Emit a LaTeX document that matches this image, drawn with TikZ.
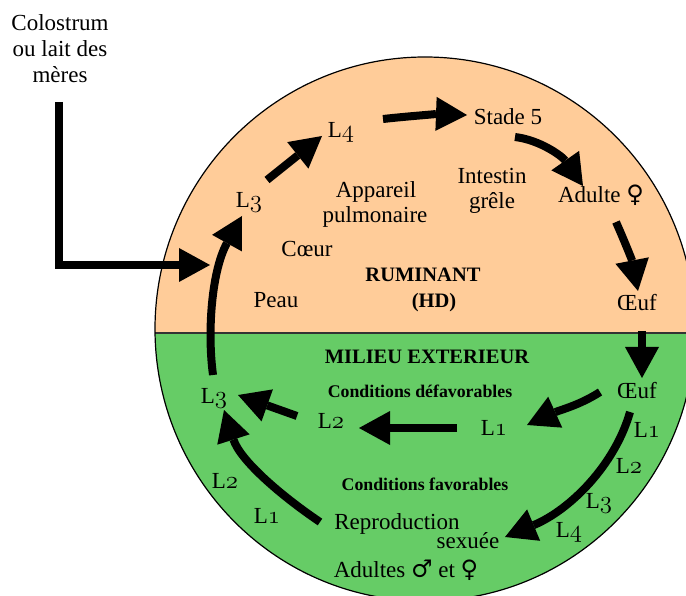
\documentclass[tikz,border=0pt]{standalone}
\usepackage{fontspec}
\setmainfont{Liberation Serif}
\newfontfamily\symfont{DejaVu Serif}
\usetikzlibrary{arrows.meta}
\definecolor{peach}{RGB}{255,204,153}
\definecolor{leaf}{RGB}{102,204,102}
% old-style figures for the larval stage numbers
\newcommand\osd[1]{{\usefont{OML}{cmm}{m}{it}#1}}
\newcommand\stage[1]{L\osd{#1}}
% sex symbols, set a little larger than the text
\newcommand\sexsym[1]{{\symfont\fontsize{24}{26}\selectfont #1}}
\begin{document}
\begin{tikzpicture}[x=1pt,y=-1pt,
  txt/.style={font=\fontsize{23}{26}\selectfont, inner sep=0pt, anchor=base},
  ttl/.style={font=\bfseries\fontsize{20.5}{24}\selectfont, inner sep=0pt, anchor=base},
  cnd/.style={font=\bfseries\fontsize{17.8}{20}\selectfont, inner sep=0pt, anchor=base},
  arr/.style={line width=8pt, -{Triangle[width=34pt,length=31pt,line width=0pt]}},
  disc/.style={x radius=270pt, y radius=272pt}]
\fill[white] (0,0) rectangle (686,596);
\useasboundingbox (0,0) rectangle (686,596);

% the disc: host above, outside world below
\coordinate (c) at (425,329);
\fill[peach] (c) ellipse[disc];
\begin{scope}
  \clip (0,333) rectangle (720,720);
  \fill[leaf] (c) ellipse[disc];
\end{scope}
\begin{scope}
  \clip (c) ellipse[disc];
  \draw[line width=1.8pt, black!80] (100,333) -- (720,333);
\end{scope}
\draw[line width=1.2pt] (c) ellipse[disc];

% source of infection
\node[txt] (col1) at (60,31) {Colostrum};
\node[txt] (col2) at (60,57) {ou lait des};
\node[txt] (col3) at (60,83) {mères};

% inside the ruminant
\node[txt] (l3u) at (249,208) {\stage3};
\node[txt] (l4) at (341,138) {\stage4};
\node[txt] (st5) at (508,125) {Stade 5};
\node[txt] (adf) at (601,203) {Adulte \sexsym{♀}};
\node[txt] (oeu1) at (637,311) {Œuf};
\node[txt] (intes) at (492,184) {Intestin};
\node[txt] (grele) at (492,209) {grêle};
\node[txt] (app) at (376,198) {Appareil};
\node[txt] (pulm) at (375,223) {pulmonaire};
\node[txt] (coeur) at (307,257) {Cœur};
\node[txt] (peau) at (276,308) {Peau};
\node[ttl] (rum) at (423,282) {RUMINANT};
\node[ttl] (hd) at (434,308) {(HD)};

% outside world
\node[ttl] (mil) at (427,363) {MILIEU EXTERIEUR};
\node[cnd] (cdef) at (420,397) {Conditions défavorables};
\node[txt] (oeu2) at (637,399) {Œuf};
\node[txt] (l1d) at (494,435) {\stage1};
\node[txt] (l2d) at (331,428) {\stage2};
\node[txt] (l3d) at (214,403) {\stage3};
\node[txt] (l2g) at (225,488) {\stage2};
\node[txt] (l1g) at (267,523) {\stage1};
\node[cnd] (cfav) at (425,490) {Conditions favorables};
\node[txt] (repro) at (397,529) {Reproduction};
\node[txt] (sex) at (468,548) {sexuée};
\node[txt] (adm) at (406,577) {Adultes \sexsym{♂} et \sexsym{♀}};
\node[txt] (r1) at (647,437) {\stage1};
\node[txt] (r2) at (629,473) {\stage2};
\node[txt] (r3) at (599,508) {\stage3};
\node[txt] (r4) at (569,537) {\stage4};

% arrow ends
\coordinate (colA) at (59,102);
\coordinate (colB) at (59,265);
\coordinate (colC) at (210,265);
\coordinate (a1s) at (267,180);  \coordinate (a1e) at (322,136);
\coordinate (a2s) at (383,119);  \coordinate (a2e) at (467,115);
\coordinate (a3s) at (515,137);  \coordinate (a3e) at (583,186);
\coordinate (a4s) at (616,222);  \coordinate (a4e) at (638,291);
\coordinate (a5s) at (642,331);  \coordinate (a5e) at (642,378);
\coordinate (a6s) at (600,392);  \coordinate (a6e) at (527,425);
\coordinate (a7s) at (457,428);  \coordinate (a7e) at (359,428);
\coordinate (a8s) at (297,416);  \coordinate (a8e) at (238,395);
\coordinate (a9s) at (213,375);  \coordinate (a9e) at (242,216);
\coordinate (a10s) at (320,522); \coordinate (a10e) at (224,410);
\coordinate (a11s) at (630,412); \coordinate (a11e) at (505,537);

% cycle arrows
\draw[arr] (colA) -- (colB) -- (colC);
\draw[arr] (a1s) -- (a1e);
\draw[arr] (a2s) .. controls (410,116) and (440,114) .. (a2e);
\draw[arr] (a3s) .. controls (540,140) and (562,156) .. (a3e);
\draw[arr] (a4s) .. controls (624,240) and (632,260) .. (a4e);
\draw[arr] (a5s) -- (a5e);
\draw[arr] (a6s) .. controls (580,405) and (560,410) .. (a6e);
\draw[arr] (a7s) -- (a7e);
\draw[arr] (a8s) -- (a8e);
\draw[arr] (a9s) .. controls (207,330) and (212,270) .. (a9e);
\draw[arr] (a10s) .. controls (280,495) and (240,460) .. (a10e);
\draw[arr] (a11s) .. controls (615,465) and (570,510) .. (a11e);
\end{tikzpicture}
\end{document}
